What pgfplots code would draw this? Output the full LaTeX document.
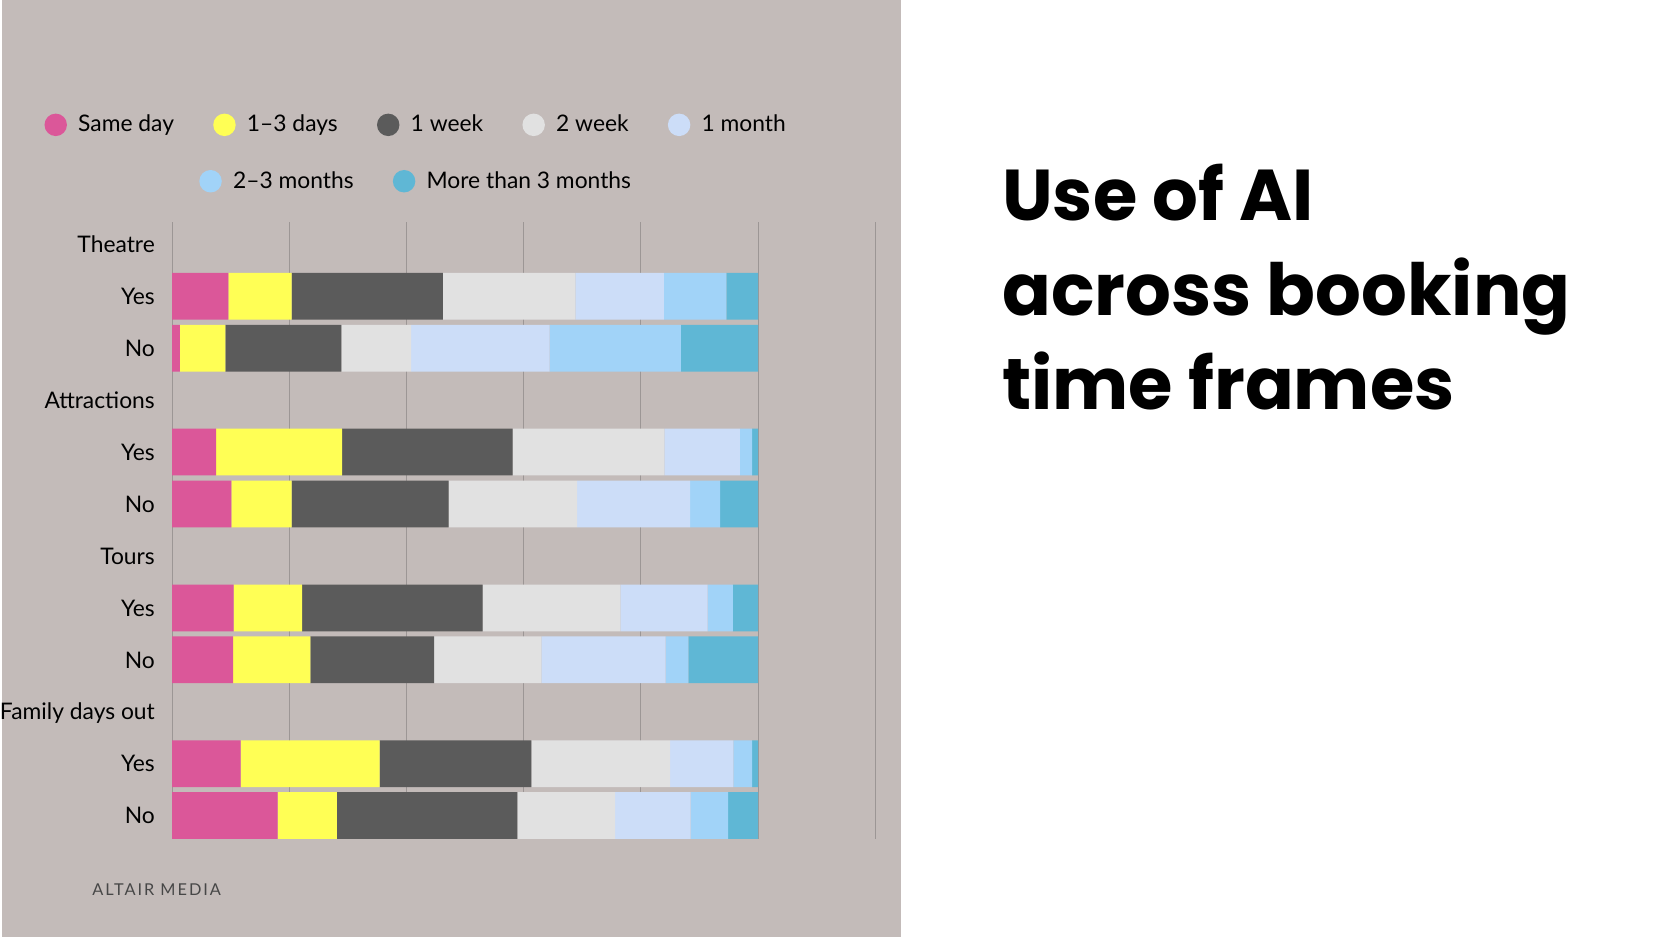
\documentclass[border=0pt]{standalone}
\usepackage{pgfplots}
\pgfplotsset{compat=1.18}
\usepackage{pgfplotstable}
\usepackage{fontspec}
\setmainfont{Lato}
\newfontfamily\titlefont{Poppins}
\newfontfamily\brandfont[LetterSpace=12]{Lato}

\definecolor{panel}{HTML}{C3BBB9}
\definecolor{gridc}{HTML}{9C9695}
\definecolor{cSame}{HTML}{DB5799}
\definecolor{cDays}{HTML}{FFFF55}
\definecolor{cWeek}{HTML}{5B5B5B}
\definecolor{cTwoWeek}{HTML}{E1E1E1}
\definecolor{cMonth}{HTML}{CCDDF8}
\definecolor{cTwoMonths}{HTML}{A1D3F8}
\definecolor{cMore}{HTML}{5FB7D5}

% share of respondents per booking time frame (row 0,3,6,9 = group headers)
\pgfplotstableread{
row same days week twoweek month twomonths more
1  9.6 10.8 25.8 22.6 15.1 10.7 5.4
2  1.3  7.8 19.8 11.9 23.6 22.4 13.2
4  7.5 21.5 29.1 25.9 12.9  2.1 1.0
5 10.1 10.3 26.8 21.9 19.3  5.1 6.5
7 10.5 11.7 30.8 23.5 14.9  4.3 4.3
8 10.4 13.2 21.1 18.3 21.2  3.9 11.9
10 11.7 23.7 25.9 23.7 10.8 3.2 1.0
11 18.0 10.1 30.8 16.7 12.9 6.4 5.1
}\datatable

\pgfplotsset{
  box/.style={
    at={(34.06mm,19.6mm)}, anchor=south west,
    width=140.8mm, height=123.54mm, scale only axis,
  },
  legendrow/.style={
    box,
    xmin=0, xmax=1, ymin=0, ymax=1, hide axis,
    legend image code/.code={\fill[##1] (0,0) circle (2.25mm);},
    legend style={draw=none, fill=none, inner sep=0pt,
      at={(axis description cs:0.3469,#1)}, anchor=center,
      font=\fontsize{13}{15}\selectfont,
      legend columns=-1,
      /tikz/every odd column/.append style={column sep=1.9mm},
      /tikz/every even column/.append style={column sep=7.5mm},
      nodes={inner sep=1pt}},
  },
}

\begin{document}
\begin{tikzpicture}[x=1mm,y=1mm]
\fill[white] (0,0) rectangle (335.2,187.6);
\fill[panel] (0,0) rectangle (180,187.6);

\begin{axis}[
  box,
  xbar stacked, bar width=0.9,
  xmin=0, xmax=120, ymin=-0.43, ymax=11.45, y dir=reverse,
  xtick={0,20,...,120}, xticklabels={},
  ytick={0,...,11},
  yticklabels={Theatre,Yes,No,Attractions,Yes,No,Tours,Yes,No,Family days out,Yes,No},
  yticklabel style={font=\fontsize{13}{15}\selectfont, inner sep=0pt,
    anchor=base east, xshift=-3.4mm, yshift=-1.65mm},
  major tick length=0pt,
  axis line style={draw=none},
  xmajorgrids, grid style={gridc, line width=0.2mm},
]
\addplot[fill=cSame, draw=none] table[x=same, y=row] {\datatable};
\addplot[fill=cDays, draw=none] table[x=days, y=row] {\datatable};
\addplot[fill=cWeek, draw=none] table[x=week, y=row] {\datatable};
\addplot[fill=cTwoWeek, draw=none] table[x=twoweek, y=row] {\datatable};
\addplot[fill=cMonth, draw=none] table[x=month, y=row] {\datatable};
\addplot[fill=cTwoMonths, draw=none] table[x=twomonths, y=row] {\datatable};
\addplot[fill=cMore, draw=none] table[x=more, y=row] {\datatable};
\end{axis}

% legend, first row
\begin{axis}[legendrow=1.1575]
\addlegendimage{fill=cSame, draw=none}
\addlegendimage{fill=cDays, draw=none}
\addlegendimage{fill=cWeek, draw=none}
\addlegendimage{fill=cTwoWeek, draw=none}
\addlegendimage{fill=cMonth, draw=none}
\legend{Same day, 1--3 days, 1 week, 2 week, 1 month}
\end{axis}

% legend, second row
\begin{axis}[legendrow=1.0661]
\addlegendimage{fill=cTwoMonths, draw=none}
\addlegendimage{fill=cMore, draw=none}
\legend{2--3 months, More than 3 months}
\end{axis}

\node[anchor=base west, inner sep=0pt, text=black!72, font=\brandfont\fontsize{9.3}{11}\selectfont] at (18,8.26) {ALTAIR MEDIA};

\node[anchor=base west, inner sep=0pt, font=\titlefont\bfseries\fontsize{41}{50}\selectfont] at (200.2,143.4) {Use of AI};
\node[anchor=base west, inner sep=0pt, font=\titlefont\bfseries\fontsize{41}{50}\selectfont] at (200.2,124.4) {across booking};
\node[anchor=base west, inner sep=0pt, font=\titlefont\bfseries\fontsize{41}{50}\selectfont] at (200.2,105.6) {time frames};
\end{tikzpicture}
\end{document}
